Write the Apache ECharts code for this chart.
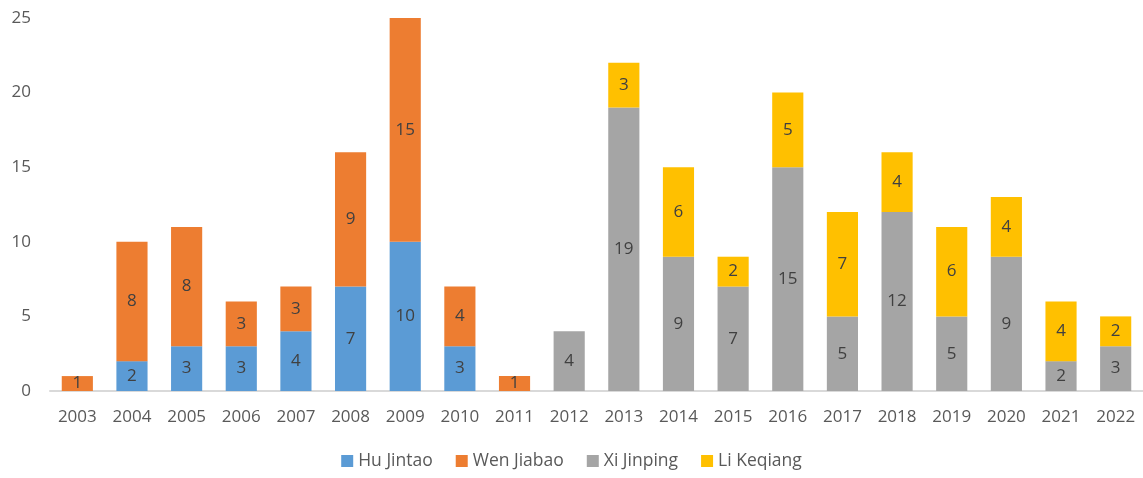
<!DOCTYPE html>
<html>
<head>
<meta charset="utf-8">
<style>
  html, body { margin: 0; padding: 0; background: #ffffff; }
  #chart { width: 1143px; height: 478px; }
</style>
<script src="https://cdn.jsdelivr.net/npm/echarts@6/dist/echarts.min.js"></script>
</head>
<body>
<div id="chart"></div>
<script>
// Years on the category axis
const years = ['2003','2004','2005','2006','2007','2008','2009','2010','2011','2012',
               '2013','2014','2015','2016','2017','2018','2019','2020','2021','2022'];

// Counts per leader per year (null = no entry)
const huJintao   = [null, 2, 3, 3, 4, 7, 10, 3, null, null, null, null, null, null, null, null, null, null, null, null];
const wenJiabao  = [1, 8, 8, 3, 3, 9, 15, 4, 1, null, null, null, null, null, null, null, null, null, null, null];
const xiJinping  = [null, null, null, null, null, null, null, null, null, 4, 19, 9, 7, 15, 5, 12, 5, 9, 2, 3];
const liKeqiang  = [null, null, null, null, null, null, null, null, null, null, 3, 6, 2, 5, 7, 4, 6, 4, 4, 2];

const seriesNames = ['Hu Jintao', 'Wen Jiabao', 'Xi Jinping', 'Li Keqiang'];
const seriesData  = [huJintao, wenJiabao, xiJinping, liKeqiang];
const colors      = ['#5B9BD5', '#ED7D31', '#A5A5A5', '#FFC000'];

// Value-axis ticks
const yMin = 0, yMax = 25, yStep = 5;

const font = '"Open Sans", "Noto Sans", sans-serif';

const chart = echarts.init(document.getElementById('chart'), null, { renderer: 'canvas' });

chart.setOption({
  animation: false,
  color: colors,
  textStyle: { fontFamily: font },
  grid: { left: 50, right: 0, top: 18, bottom: 87, containLabel: false },
  legend: {
    data: seriesNames,
    bottom: 3,
    left: 'center',
    icon: 'rect',
    itemWidth: 12,
    itemHeight: 12,
    itemGap: 23,
    textStyle: { fontFamily: font, fontSize: 17.5, color: '#595959' }
  },
  xAxis: {
    type: 'category',
    data: years,
    axisLine: { show: true, lineStyle: { color: '#D9D9D9', width: 2 } },
    axisTick: { show: false },
    axisLabel: { fontFamily: font, fontSize: 17, color: '#595959', margin: 18 }
  },
  yAxis: {
    type: 'value',
    min: yMin,
    max: yMax,
    interval: yStep,
    axisLine: { show: false },
    axisTick: { show: false },
    splitLine: { show: false },
    axisLabel: { fontFamily: font, fontSize: 17, color: '#595959', margin: 19 }
  },
  series: seriesNames.map((name, i) => ({
    name: name,
    type: 'bar',
    stack: 'total',
    barWidth: '57%',
    data: seriesData[i],
    itemStyle: { color: colors[i] },
    label: {
      show: true,
      position: 'inside',
      fontFamily: font,
      fontSize: 17,
      color: '#404040'
    }
  }))
});
</script>
</body>
</html>
